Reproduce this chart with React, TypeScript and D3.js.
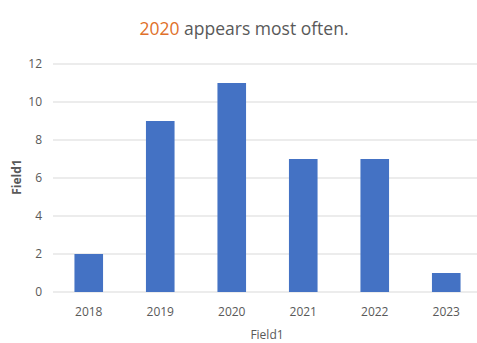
import React from "react";
import * as d3 from "d3";

const categories = ["2018", "2019", "2020", "2021", "2022", "2023"];
const values = [2, 9, 11, 7, 7, 1];
const yTicks = [0, 2, 4, 6, 8, 10, 12];
const titleHighlight = "2020";
const titleRest = " appears most often.";
const xTitle = "Field1";
const yTitle = "Field1";

const W = 477;
const H = 343;

export default function App() {
  const x = d3.scaleBand<string>().domain(categories).range([53, 482]).paddingInner(0.6).paddingOuter(0.3);
  const y = d3.scaleLinear().domain([0, 12]).range([292, 64]);
  const font = "'Open Sans', sans-serif";
  return (
    <svg width={W} height={H} style={{ position: "absolute", left: 0, top: 0, background: "#fff" }}>
      <text x={244} y={35} textAnchor="middle" fontFamily={font} fontSize={17.5} fill="#595959">
        <tspan fill="#E0702A">{titleHighlight}</tspan>
        <tspan>{titleRest}</tspan>
      </text>
      {yTicks.map((t) => (
        <g key={t}>
          <line x1={53} x2={W} y1={y(t)} y2={y(t)} stroke="#D9D9D9" strokeWidth={1} />
          <text x={42} y={y(t) + 4} textAnchor="end" fontFamily={font} fontSize={12} fill="#595959">
            {t}
          </text>
        </g>
      ))}
      {categories.map((c, i) => (
        <rect
          key={c}
          x={x(c)}
          y={y(values[i])}
          width={x.bandwidth()}
          height={y(0) - y(values[i])}
          fill="#4472C4"
        />
      ))}
      {categories.map((c) => (
        <text
          key={c}
          x={(x(c) as number) + x.bandwidth() / 2}
          y={316}
          textAnchor="middle"
          fontFamily={font}
          fontSize={12}
          fill="#595959"
        >
          {c}
        </text>
      ))}
      <text x={267} y={339} textAnchor="middle" fontFamily={font} fontSize={12} fill="#595959">
        {xTitle}
      </text>
      <text
        transform={`translate(21,177) rotate(-90)`}
        textAnchor="middle"
        fontFamily={font}
        fontSize={12}
        fontWeight="bold"
        fill="#595959"
      >
        {yTitle}
      </text>
    </svg>
  );
}
